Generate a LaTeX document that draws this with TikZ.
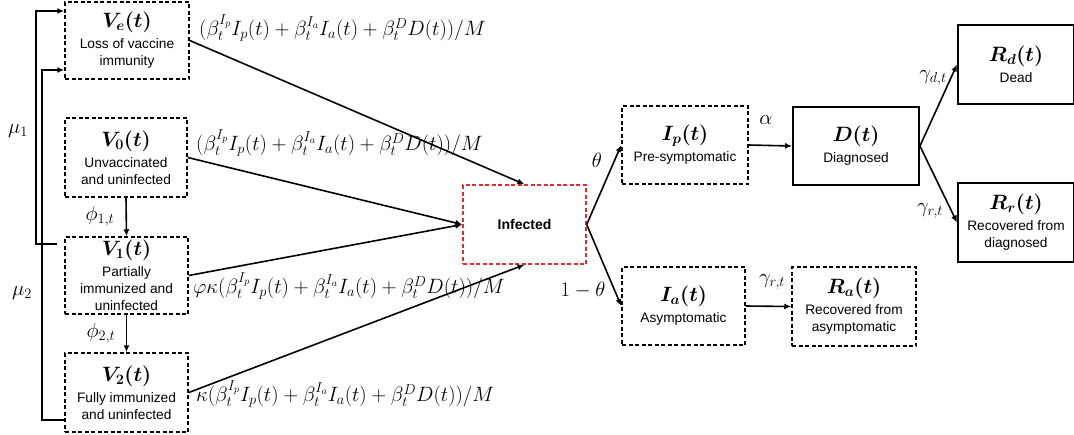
\documentclass[tikz,border=0pt]{standalone}
\usepackage{amsmath}
\usepackage{bm}
\usepackage{fontspec}
\setmainfont{Liberation Sans}
\usetikzlibrary{arrows.meta}
\definecolor{infred}{RGB}{225,45,45}
\newcommand{\sub}{\fontsize{13.7}{17}\selectfont}
\tikzset{
  box/.style={draw, line width=1.5pt, dash pattern=on 4pt off 2.5pt, inner sep=0pt, align=center, font=\sub},
  sbox/.style={draw, line width=1.9pt, inner sep=0pt, align=center, font=\sub},
  rbox/.style={draw=infred, line width=1.4pt, dash pattern=on 4pt off 2.5pt, inner sep=0pt, align=center},
  arr/.style={-{Latex[length=7pt,width=6pt]}, line width=1.6pt},
  lab/.style={inner sep=0pt, font=\fontsize{20.5}{24}\selectfont},
  rate/.style={inner sep=0pt, font=\fontsize{21}{24}\selectfont},
}
\newcommand{\ttl}[1]{{\fontsize{19.5}{23}\selectfont$\bm{#1}$}\\[4pt]}
\newcommand{\force}{(\beta_t^{I_p}I_p(t)+\beta_t^{I_a}I_a(t)+\beta_t^{D}D(t))/M}
\begin{document}
\begin{tikzpicture}[x=1pt,y=-1pt]
\useasboundingbox (0,0) rectangle (1074,434);
% boxes
\node[box, minimum width=124pt, minimum height=77pt] (Ve) at (127,40.5) {\ttl{V_e(t)}Loss of vaccine\\immunity};
\node[box, minimum width=122pt, minimum height=79pt] (V0) at (126,157.5) {\ttl{V_0(t)}Unvaccinated\\and uninfected};
\node[box, minimum width=123pt, minimum height=77pt] (V1) at (126.5,275.5) {\ttl{V_1(t)}Partially\\immunized and\\uninfected};
\node[box, minimum width=123pt, minimum height=79pt] (V2) at (126.5,392.5) {\ttl{V_2(t)}Fully immunized\\and uninfected};
\node[rbox, minimum width=123pt, minimum height=79pt, font=\bfseries\fontsize{14}{17}\selectfont] (Inf) at (524.5,224.5) {Infected};
\node[box, minimum width=126pt, minimum height=78pt] (Ip) at (685,145) {\ttl{I_p(t)}Pre-symptomatic};
\node[box, minimum width=123pt, minimum height=78pt] (Ia) at (683.5,306) {\ttl{I_a(t)}Asymptomatic};
\node[box, minimum width=124pt, minimum height=79pt] (Ra) at (854,306.5) {\ttl{R_a(t)}Recovered from\\asymptomatic};
\node[sbox, minimum width=126pt, minimum height=78pt] (D) at (856,146) {\ttl{D(t)}Diagnosed};
\node[sbox, minimum width=116pt, minimum height=79pt] (Rd) at (1016,64.5) {\ttl{R_d(t)}Dead};
\node[sbox, minimum width=116pt, minimum height=79pt] (Rr) at (1016,222.5) {\ttl{R_r(t)}Recovered from\\diagnosed};
% connectors
\draw[arr] (Ve.east) -- (Inf.north);
\draw[arr] (V0.east) -- (Inf.west);
\draw[arr] (V1.east) -- (Inf.west);
\draw[arr] (V2.east) -- (Inf.south);
\draw[arr] (V0.south) -- (V1.north);
\draw[arr] (V1.south) -- (V2.north);
\draw[arr] ([xshift=-7pt,yshift=31.5pt]V1.west) -- ++(-21,0) |- ([yshift=29.5pt]Ve.west);
\draw[arr] ([yshift=-27.5pt]V2.west) -- ++(-22,0) |- ([yshift=-29.5pt]Ve.west);
\draw[arr] (Inf.east) -- (Ip.west);
\draw[arr] (Inf.east) -- (Ia.west);
\draw[arr] (Ip.east) -- (D.west);
\draw[arr] (Ia.east) -- (Ra.west);
\draw[arr] (D.east) -- (Rd.west);
\draw[arr] (D.east) -- (Rr.west);
% labels
\node[lab, anchor=west] (l1) at (199,28) {$\force$};
\node[lab, anchor=west] (l2) at (196,143) {$\force$};
\node[lab, anchor=west] (l3) at (193,286) {$\varphi\kappa\force$};
\node[lab, anchor=west] (l4) at (196,394) {$\kappa\force$};
\node[rate] (mu1) at (18,131) {$\mu_1$};
\node[rate] (mu2) at (22,293) {$\mu_2$};
\node[rate] (p1) at (100,216) {$\phi_{1,t}$};
\node[rate] (p2) at (101,333) {$\phi_{2,t}$};
\node[rate] (th) at (597,160) {$\theta$};
\node[rate] (th2) at (583,290) {$1-\theta$};
\node[rate] (al) at (766,120) {$\alpha$};
\node[rate] (gra) at (772,282) {$\gamma_{r,t}$};
\node[rate] (gd) at (933,78) {$\gamma_{d,t}$};
\node[rate] (gr) at (930,211) {$\gamma_{r,t}$};
\end{tikzpicture}
\end{document}
